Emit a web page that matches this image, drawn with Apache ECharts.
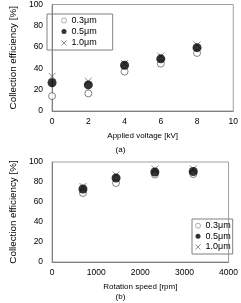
<!DOCTYPE html>
<html><head><meta charset="utf-8">
<script src="https://cdn.jsdelivr.net/npm/echarts@6/dist/echarts.min.js"></script>
<style>html,body{margin:0;padding:0;background:#fff}#c{width:241px;height:303px}</style>
</head><body><div id="c"></div>
<script>
const voltage = [0, 2, 4, 6, 8];
const a03 = [14, 16.5, 37, 44.5, 54.5];
const a05 = [26.5, 24.5, 43, 49, 59.5];
const a10 = [32.5, 28, 44.5, 51.5, 62];
const speed = [700, 1450, 2330, 3200];
const b03 = [69, 79, 87.5, 88];
const b05 = [73, 84, 90, 90.5];
const b10 = [75.5, 87, 93, 93];
const names = ['0.3μm', '0.5μm', '1.0μm'];

const font = 'Liberation Sans, Arial, sans-serif';
const cross = 'path://M0,0L10,10M10,0L0,10';
function pts(xs, ys){ return xs.map((x,i)=>[x, ys[i]]); }
function mk(name, data, gi, kind){
  const s = {type:'scatter', name:name, xAxisIndex:gi, yAxisIndex:gi, data:data};
  if(kind===0){ s.symbol='circle'; s.symbolSize=7; s.itemStyle={color:'#fff', borderColor:'#222', borderWidth:0.7}; s.z=1; }
  if(kind===1){ s.symbol='circle'; s.symbolSize=9; s.itemStyle={color:'#000'}; s.z=3; }
  if(kind===2){ s.symbol=cross; s.symbolSize=7; s.itemStyle={color:'none', borderColor:'#333', borderWidth:0.7}; s.z=2; }
  return s;
}
const axisLine = {show:true, lineStyle:{color:'#808080', width:1}};
const lab = {color:'#000', fontSize:8.5, fontFamily:font, formatter:function(v){return String(v);}};
function xa(gi, min, max, interval, name){
  return {gridIndex:gi, type:'value', min:min, max:max, interval:interval, axisLine:axisLine,
    axisTick:{show:false}, splitLine:{show:false}, axisLabel:Object.assign({margin:6}, lab),
    name:name, nameLocation:'middle', nameGap:21, nameTextStyle:{color:'#000', fontSize:8, fontFamily:font}};
}
function ya(gi){
  return {gridIndex:gi, type:'value', min:0, max:100, interval:20, axisLine:axisLine,
    axisTick:{show:false}, splitLine:{show:false}, axisLabel:Object.assign({margin:9}, lab),
    name:'Collection efficiency [%]', nameLocation:'middle', nameGap:27,
    nameTextStyle:{color:'#000', fontSize:9.8, fontFamily:font}};
}
const legendItems = [
  {name:names[0], icon:'circle', itemStyle:{color:'#fff', borderColor:'#555', borderWidth:0.6}},
  {name:names[1], icon:'circle', itemStyle:{color:'#000', borderWidth:0}},
  {name:names[2], icon:cross, itemStyle:{color:'none', borderColor:'#444', borderWidth:0.7}}
];
function legendCfg(left, top, pad, gap, lh){
  return {left:left, top:top, orient:'vertical', itemWidth:5, itemHeight:5, itemGap:gap, padding:pad,
    borderColor:'#808080', borderWidth:1, borderRadius:0, selectedMode:false,
    textStyle:{color:'#000', fontSize:9, lineHeight:lh, fontFamily:font}, data:legendItems};
}
const chart = echarts.init(document.getElementById('c'), null, {renderer:'canvas'});
chart.setOption({
  animation:false,
  grid:[
    {left:35, top:4, width:202, height:107, show:true, borderColor:'#a0a0a0', borderWidth:1, backgroundColor:'transparent'},
    {left:35, top:162, width:200, height:100, show:true, borderColor:'#a0a0a0', borderWidth:1, backgroundColor:'transparent'}
  ],
  xAxis:[xa(0,0,10,2,'Applied voltage [kV]'), xa(1,0,4000,1000,'Rotation speed [rpm]')],
  yAxis:[ya(0), ya(1)],
  legend:[
    legendCfg(47, 14, [2,16,2,12], 2, 9),
    legendCfg(192, 219, [2,2,2,1], 1, 9.5)
  ],
  title:[
    {text:'(a)', left:'center', top:146, padding:0, textStyle:{fontSize:8, fontWeight:'normal', color:'#000', fontFamily:font}},
    {text:'(b)', left:'center', top:293, padding:0, textStyle:{fontSize:8, fontWeight:'normal', color:'#000', fontFamily:font}}
  ],
  series:[
    mk(names[0], pts(voltage,a03), 0, 0),
    mk(names[1], pts(voltage,a05), 0, 1),
    mk(names[2], pts(voltage,a10), 0, 2),
    mk(names[0], pts(speed,b03), 1, 0),
    mk(names[1], pts(speed,b05), 1, 1),
    mk(names[2], pts(speed,b10), 1, 2)
  ]
});
</script></body></html>
